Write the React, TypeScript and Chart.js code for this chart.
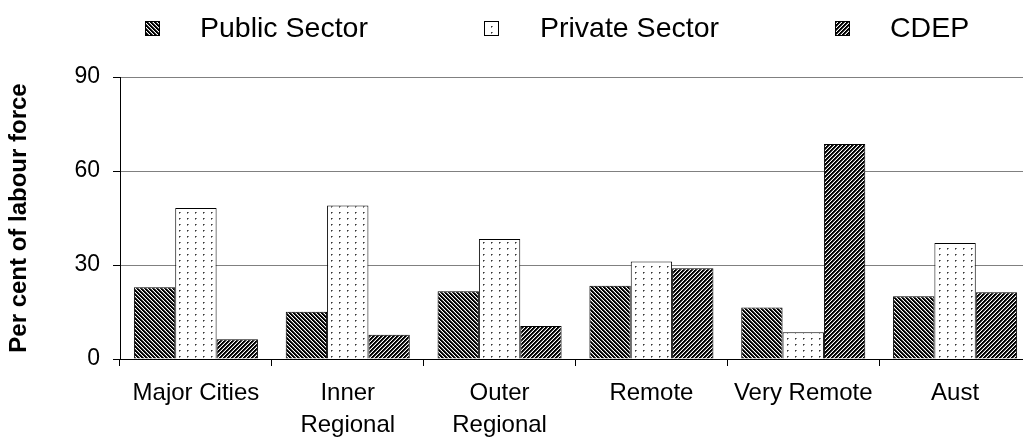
import React, { useEffect, useRef } from 'react';
import { Chart, registerables } from 'chart.js';

Chart.register(...registerables);

// ---- data ----
const categories: (string | string[])[] = [
  'Major Cities',
  ['Inner', 'Regional'],
  ['Outer', 'Regional'],
  'Remote',
  'Very Remote',
  'Aust',
];
const seriesNames = ['Public Sector', 'Private Sector', 'CDEP'];
const publicSector = [22.9, 15.1, 21.6, 23.4, 16.4, 20.0];
const privateSector = [48.2, 49.0, 38.3, 31.1, 8.5, 37.0];
const cdep = [6.3, 7.7, 10.5, 29.0, 68.6, 21.3];
const yTicks = [0, 30, 60, 90];
const yTitle = 'Per cent of labour force';

const FONT = "'Liberation Sans', Arial, sans-serif";

function makeStripe(dir: 'back' | 'fwd'): CanvasPattern | string {
  const c = document.createElement('canvas');
  c.width = 4;
  c.height = 4;
  const g = c.getContext('2d');
  if (!g) return '#444';
  g.fillStyle = '#fff';
  g.fillRect(0, 0, 4, 4);
  for (let y = 0; y < 4; y++) {
    for (let x = 0; x < 4; x++) {
      const d = dir === 'back' ? (((x - y) % 4) + 4) % 4 : (x + y) % 4;
      if (d === 0 || d === 1) {
        g.fillStyle = '#000';
        g.fillRect(x, y, 1, 1);
      } else if (d === 2) {
        g.fillStyle = '#5a5a5a';
        g.fillRect(x, y, 1, 1);
      }
    }
  }
  return g.createPattern(c, 'repeat') || '#444';
}

function makeDots(): CanvasPattern | string {
  const c = document.createElement('canvas');
  c.width = 8;
  c.height = 6;
  const g = c.getContext('2d');
  if (!g) return '#fff';
  g.fillStyle = '#fff';
  g.fillRect(0, 0, 8, 6);
  g.fillStyle = '#333';
  g.fillRect(3, 2, 1, 1);
  g.fillStyle = '#888';
  g.fillRect(4, 2, 1, 1);
  g.fillRect(3, 3, 1, 1);
  return g.createPattern(c, 'repeat') || '#fff';
}

const legendBoxX = [145, 484, 835];
const legendTextX = [200, 540, 890];

const legendPlugin = {
  id: 'customLegend',
  afterDraw(chart: any) {
    const ctx: CanvasRenderingContext2D = chart.ctx;
    ctx.save();
    chart.data.datasets.forEach((ds: any, i: number) => {
      const bx = legendBoxX[i];
      const by = 21;
      const size = 15;
      ctx.fillStyle = ds.backgroundColor;
      ctx.fillRect(bx, by, size, size);
      ctx.strokeStyle = '#000';
      ctx.lineWidth = 1;
      ctx.strokeRect(bx + 0.5, by + 0.5, size - 1, size - 1);
      ctx.fillStyle = '#000';
      ctx.font = `28.5px ${FONT}`;
      ctx.textBaseline = 'alphabetic';
      ctx.textAlign = 'left';
      ctx.fillText(ds.label, legendTextX[i], 37);
    });
    ctx.restore();
  },
};

export default function App() {
  const ref = useRef<HTMLCanvasElement | null>(null);

  useEffect(() => {
    if (!ref.current) return;
    const pubPat = makeStripe('back');
    const privPat = makeDots();
    const cdepPat = makeStripe('fwd');
    const chart = new Chart(ref.current, {
      type: 'bar',
      data: {
        labels: categories,
        datasets: [
          { label: seriesNames[0], data: publicSector, backgroundColor: pubPat as any, borderColor: '#000', borderWidth: 1 },
          { label: seriesNames[1], data: privateSector, backgroundColor: privPat as any, borderColor: '#000', borderWidth: 1 },
          { label: seriesNames[2], data: cdep, backgroundColor: cdepPat as any, borderColor: '#000', borderWidth: 1 },
        ],
      },
      options: {
        animation: false,
        responsive: false,
        layout: { padding: { top: 77, left: 0, right: 0, bottom: 0 } },
        datasets: { bar: { categoryPercentage: 0.817, barPercentage: 1 } },
        plugins: {
          legend: { display: false },
          tooltip: { enabled: false },
        },
        scales: {
          x: {
            offset: true,
            grid: {
              display: true,
              drawOnChartArea: false,
              drawTicks: true,
              tickLength: 7,
              color: '#000',
              offset: true,
            },
            border: { display: true, color: '#000' },
            ticks: {
              color: '#000',
              font: { family: FONT, size: 24, lineHeight: 1.35 },
              padding: 11,
              maxRotation: 0,
              autoSkip: false,
            },
            afterFit: (s: any) => {
              s.height = 78;
            },
          },
          y: {
            min: 0,
            max: 90,
            afterBuildTicks: (s: any) => {
              s.ticks = yTicks.map((v) => ({ value: v }));
            },
            grid: {
              color: (c: any) => (c.tick && c.tick.value === 0 ? 'rgba(0,0,0,0)' : '#808080'),
              tickColor: '#000',
              tickLength: 7,
              lineWidth: 1,
            },
            border: { display: true, color: '#000' },
            ticks: {
              color: '#000',
              font: { family: FONT, size: 23 },
              padding: 13,
            },
            title: {
              display: true,
              text: yTitle,
              color: '#000',
              font: { family: FONT, size: 24, weight: 'bold' },
              padding: { top: 5, bottom: 0 },
            },
            afterFit: (s: any) => {
              s.width = 120;
            },
          },
        },
      },
      plugins: [legendPlugin],
    });
    return () => chart.destroy();
  }, []);

  return (
    <div
      style={{
        position: 'fixed',
        left: 0,
        top: 0,
        width: 1023,
        height: 437,
        overflow: 'hidden',
        background: '#fff',
      }}
    >
      <canvas ref={ref} width={1031} height={437} style={{ display: 'block' }} />
    </div>
  );
}
